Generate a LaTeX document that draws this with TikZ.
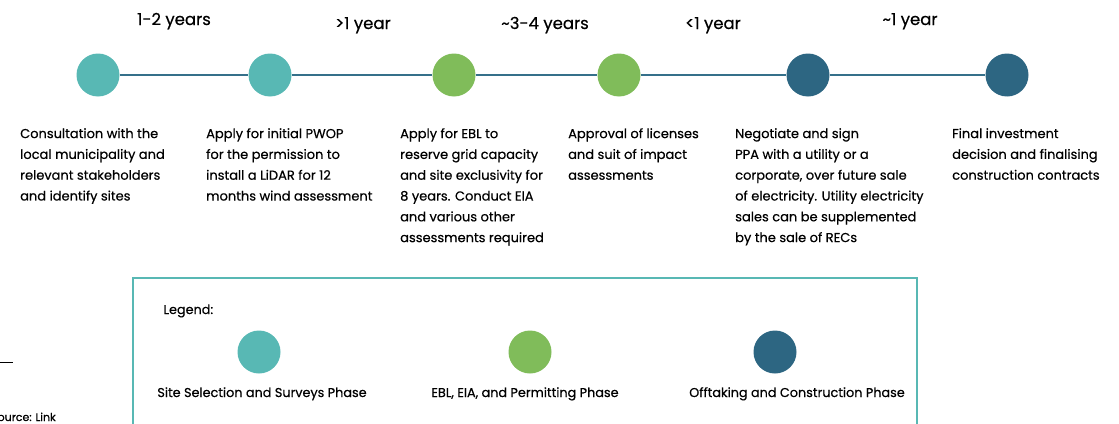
\documentclass[tikz,border=0pt]{standalone}
\usepackage{fontspec}
\setmainfont{Poppins}[FakeBold=0.5]
\definecolor{siteteal}{HTML}{58B8B4}
\definecolor{permitgreen}{HTML}{80BC5A}
\definecolor{offtakeblue}{HTML}{2D6682}
\definecolor{axisblue}{HTML}{35708A}
\tikzset{phase/.style={circle, fill=#1, minimum size=43pt, inner sep=0pt},
         span/.style={font=\fontsize{16.5}{18}\selectfont, anchor=base},
         stepnote/.style={anchor=north west, inner sep=0pt, align=left,
         font=\fontsize{13}{20.8}\selectfont},
         keylabel/.style={font=\fontsize{12.8}{16}\selectfont, anchor=base}}

\begin{document}
\begin{tikzpicture}[x=1pt,y=-1pt]
  \useasboundingbox (0,0) rectangle (1119,423);
  \clip (0,0) rectangle (1119,423);

  % timeline
  \node[phase=siteteal] (p1) at (98,75) {};
  \node[phase=siteteal] (p2) at (270,75) {};
  \node[phase=permitgreen] (p3) at (454,75) {};
  \node[phase=permitgreen] (p4) at (619,75) {};
  \node[phase=offtakeblue] (p5) at (808,75) {};
  \node[phase=offtakeblue] (p6) at (1007,75) {};
  \foreach \a/\b in {p1/p2,p2/p3,p3/p4,p4/p5,p5/p6}
    \draw[axisblue, line width=1.6pt] (\a) -- (\b);

  \node[span] (d1) at (174,25) {1-2 years};
  \node[span] (d2) at (363,29) {>1 year};
  \node[span] (d3) at (545,29) {\textasciitilde3-4 years};
  \node[span] (d4) at (713,29) {<1 year};
  \node[span] (d5) at (910,25) {\textasciitilde1 year};

  \node[stepnote] (n1) at (20,128) {Consultation with the\\local municipality and\\relevant stakeholders\\and identify sites};
  \node[stepnote] (n2) at (206,128) {Apply for initial PWOP\\for the permission to\\install a LiDAR for 12\\months wind assessment};
  \node[stepnote] (n3) at (400,128) {Apply for EBL to\\reserve grid capacity\\and site exclusivity for\\8 years. Conduct EIA\\and various other\\assessments required};
  \node[stepnote] (n4) at (568,128) {Approval of licenses\\and suit of impact\\assessments};
  \node[stepnote] (n5) at (735,128) {Negotiate and sign\\PPA with a utility or a\\corporate, over future sale\\of electricity. Utility electricity\\sales can be supplemented\\by the sale of RECs};
  \node[stepnote] (n6) at (952,128) {Final investment\\decision and finalising\\construction contracts};

  % legend
  \draw[siteteal, line width=2pt] (133,440) -- (133,278) -- (917,278) -- (917,440);
  \node[keylabel, anchor=base west] (lg) at (160,314) {Legend:};
  \node[phase=siteteal] (k1) at (259,352) {};
  \node[phase=permitgreen] (k2) at (530,352) {};
  \node[phase=offtakeblue] (k3) at (775,352) {};
  \node[keylabel] (t1) at (262,397) {Site Selection and Surveys Phase};
  \node[keylabel] (t2) at (525,397) {EBL, EIA, and Permitting Phase};
  \node[keylabel] (t3) at (797,397) {Offtaking and Construction Phase};

  % source
  \draw[line width=0.8pt] (0,362) -- (13,362);
  \node[anchor=base west, inner sep=0pt, font=\fontsize{11}{13}\selectfont] (src) at (-9,421) {Source: Link};
\end{tikzpicture}
\end{document}
